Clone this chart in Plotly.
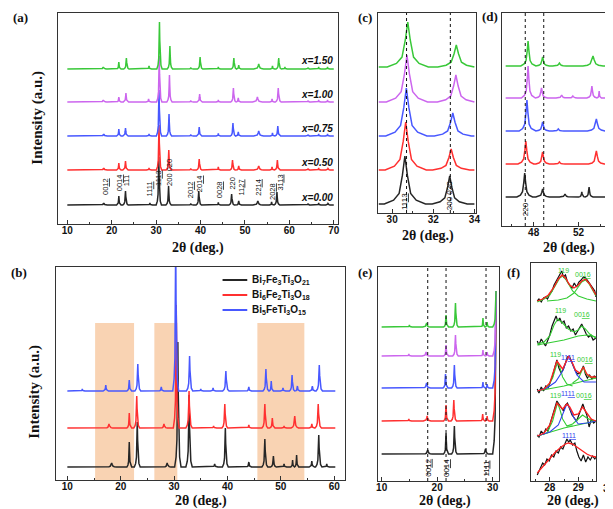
import plotly.graph_objects as go

W, H = 613, 509

# ---------------- colours of the five compositions ----------------
COLORS = ['#262626', '#ff3030', '#4858ff', '#cc66ee', '#39c839']

# ---------------- panel (a): full XRD patterns (pos, height, half-width) ----------------
A_LABELS = ["x=0.00", "x=0.50", "x=0.75", "x=1.00", "x=1.50"]
A_X000 = [(18.2, 2, .8), (21.6, 9, .5), (23.1, 14, .6), (28.6, 2, .6), (30.6, 48, .6), (32.8, 19, .6),
          (37.8, 1.5, .6), (39.6, 14, .6), (44.0, 2.5, .5), (47.0, 11, .6), (48.6, 4, .6), (52.9, 4, 1.1),
          (56.0, 3, .5), (57.2, 13, .65), (64.2, 1, .6), (66.6, 2, .5), (68.7, 1.5, .5)]
A_X050 = [(18.2, 2, .8), (21.6, 7, .5), (23.1, 9, .6), (28.4, 2, .6), (30.65, 45, .6), (32.85, 20, .6),
          (37.8, 1.5, .6), (39.7, 11, .6), (44.0, 3, .5), (47.2, 10, .6), (48.6, 4, .6), (53.1, 4, 1.1),
          (56.1, 3, .5), (57.3, 10, .65), (64.2, 1, .6), (66.6, 2, .5), (68.7, 1.5, .5)]
A_X075 = [(18.2, 2, .8), (21.6, 7, .5), (23.1, 8, .6), (28.4, 2, .6), (30.65, 46, .6), (32.9, 22, .6),
          (37.8, 1.5, .6), (39.7, 9, .6), (44.0, 2.5, .5), (47.3, 13, .6), (48.5, 4, .6), (53.1, 5, 1.1),
          (56.2, 3, .5), (57.4, 10, .65), (64.2, 1, .6), (66.6, 2, .5), (68.6, 2, .5)]
A_X100 = [(18.1, 2, .8), (21.6, 5, .5), (23.2, 9, .6), (28.3, 3, .6), (30.7, 46, .6), (33.0, 27, .6),
          (37.8, 1.5, .6), (39.8, 8, .6), (44.0, 2, .5), (47.4, 14, .6), (48.5, 4, .55), (52.8, 5, 1.1),
          (56.1, 3, .5), (57.5, 14, .65), (64.2, 1, .6), (66.6, 2, .5), (68.6, 2, .5)]
A_X150 = [(18.1, 2, .8), (21.6, 7, .5), (23.3, 11, .6), (28.4, 3, .6), (30.75, 47, .6), (33.1, 23, .6),
          (37.8, 1.5, .6), (39.9, 12, .6), (44.0, 2, .5), (47.5, 11, .6), (48.6, 4, .5), (53.1, 5, 1.1),
          (56.2, 3, .5), (57.6, 11, .6), (59.0, 2, .5), (64.2, 1, .6), (66.6, 2, .5), (68.6, 2, .5)]
A_OFFSET = [19, 54, 88, 122, 155]
A_HKL_X = [18.6, 21.8, 23.4, 28.6, 30.4, 33.0, 37.8, 39.8, 44.3, 47.1, 49.0, 53.0, 56.2, 57.8]
A_HKL_Y = [27, 31, 36, 26, 36, 36, 24, 30, 24, 32, 26, 26, 22, 31]
A_HKL_TXT = ["00<u>12</u>", "00<u>14</u>", "111", "11<u>11</u>", "11<u>13</u>", "200 020", "20<u>12</u>",
             "20<u>14</u>", "00<u>28</u>", "220", "11<u>27</u>", "22<u>14</u>", "20<u>28</u>", "31<u>13</u>"]

# ---------------- panel (b): three phases ----------------
B_NAMES = ["Bi<sub>7</sub>Fe<sub>3</sub>Ti<sub>3</sub>O<sub>21</sub>",
           "Bi<sub>6</sub>Fe<sub>2</sub>Ti<sub>3</sub>O<sub>18</sub>",
           "Bi<sub>5</sub>FeTi<sub>3</sub>O<sub>15</sub>"]
B_BLACK = [(18.3, 4, .9), (21.6, 25, .45), (23.1, 45, .55), (28.7, 4, .7), (30.7, 125, .6), (32.8, 72, .6),
           (37.6, 3, .6), (39.6, 39, .55), (44.0, 5, .5), (47.0, 28, .55), (48.6, 11, .55), (50.6, 3, .5),
           (52.2, 7, .35), (52.95, 12, .4), (55.8, 6, .5), (57.1, 32, .6), (58.6, 3, .5)]
B_RED = [(17.8, 4, .7), (21.6, 15, .45), (23.0, 32, .55), (28.1, 4, .6), (30.4, 123, .55), (32.8, 37, .6),
         (37.4, 2, .6), (39.5, 24, .55), (44.0, 3, .5), (47.0, 24, .55), (48.4, 10, .5), (50.6, 2, .5),
         (52.6, 12, .7), (55.8, 4, .5), (57.0, 24, .6)]
B_BLUE = [(12.8, 2, .5), (17.2, 6, .5), (21.6, 11, .45), (23.2, 27, .55), (27.6, 4, .5), (30.3, 150, .55),
          (32.9, 35, .6), (35.0, 2, .5), (37.3, 3, .5), (39.7, 20, .6), (44.0, 4, .5), (47.2, 22, .55),
          (48.2, 10, .4), (50.4, 3, .5), (52.1, 16, .5), (53.1, 5, .45), (55.9, 5, .5), (57.2, 26, .6)]
B_OFFSET = [13, 52, 89]
B_BANDS_LO = [15.2, 26.3, 45.6]
B_BANDS_HI = [22.5, 30.6, 54.4]
B_BAND_TOP = 157

# ---------------- panel (c): 29.4-34.0 deg ----------------
C_X000 = [(30.62, 48, 1.0), (32.80, 28, .85)]
C_X050 = [(30.66, 48, 1.0), (32.87, 21, .9)]
C_X075 = [(30.69, 48, 1.0), (32.95, 23, .9)]
C_X100 = [(30.72, 47, 1.0), (33.10, 27, .9)]
C_X150 = [(30.76, 45, 1.0), (33.12, 22, .9)]
C_OFFSET = [9, 43, 77, 111, 146]
C_LINES = [30.7, 32.83]
C_HKL_X = [30.6, 32.8]
C_HKL_TXT = ["11<u>13</u>", "200 020"]

# ---------------- panel (d): 45.5-54.7 deg ----------------
D_X000 = [(47.2, 24, .7), (48.8, 8, .6), (50.8, 3, .5), (52.3, 5, .3), (52.95, 10, .35)]
D_X050 = [(47.3, 23, .7), (48.8, 12, .6), (50.3, 2, .5), (53.6, 13, .7)]
D_X075 = [(47.4, 31, .7), (48.8, 9, .6), (50.2, 2, .5), (53.6, 12, .8)]
D_X100 = [(47.5, 32, .6), (48.7, 10, .55), (50.5, 3, .5), (51.5, 2, .4), (53.2, 12, .45), (53.85, 7, .2)]
D_X150 = [(47.5, 25, .65), (48.8, 9, .6), (50.3, 3, .6), (53.3, 10, .9)]
D_OFFSET = [29, 62, 95, 128, 160]
D_LINES = [47.25, 48.9]

# ---------------- panel (e): 10-30.6 deg ----------------
E_X000 = [(18.3, 4, .8), (21.6, 21, .45), (23.1, 28, .5), (28.7, 5, .6), (30.6, 163, .6)]
E_X050 = [(14.9, 2, .5), (18.2, 5, .7), (21.6, 16, .45), (23.0, 21, .5), (28.2, 7, .4), (29.0, 5, .35), (30.6, 130, .6)]
E_X075 = [(18.1, 5, .7), (21.5, 14, .45), (23.1, 23, .5), (28.25, 6, .35), (29.0, 4, .35), (30.6, 97, .6)]
E_X100 = [(14.9, 2, .5), (18.0, 4, .7), (21.6, 11, .45), (23.3, 21, .5), (28.25, 6, .35), (29.0, 4, .35), (30.6, 65, .6)]
E_X150 = [(15.0, 2, .5), (18.1, 4, .7), (21.6, 12, .45), (23.3, 24, .5), (28.25, 9, .35), (29.0, 5, .35), (30.6, 36, .6)]
E_OFFSET = [27, 60, 93, 125, 154]
E_LINES = [18.3, 21.6, 28.8]
E_HKL_TXT = ["00<u>12</u>", "00<u>14</u>", "11<u>11</u>"]

# ---------------- panel (f): peak fitting 27.6-29.6 deg ----------------
F1_DX = [27.56, 27.62, 27.7, 27.78, 27.85, 27.92, 28.0, 28.08, 28.15, 28.22, 28.3, 28.36, 28.42, 28.48, 28.55,
         28.62, 28.7, 28.78, 28.86, 28.94, 29.02, 29.1, 29.18, 29.26, 29.34, 29.42, 29.5, 29.58, 29.62]
F1_DY = [180, 182, 179, 183, 184, 182, 187, 190, 196, 200, 203, 208, 210, 204, 206,
         199, 196, 193, 198, 194, 199, 201, 204, 203, 200, 197, 193, 190, 184]
F1_RX = [27.56, 27.75, 27.95, 28.15, 28.3, 28.43, 28.55, 28.7, 28.85, 29.0, 29.12, 29.25, 29.4, 29.52, 29.62]
F1_RY = [180, 182, 186, 194, 202, 206, 203, 196, 193, 196, 200, 202, 197, 191, 186]
F1_G1X = [27.56, 27.8, 28.0, 28.2, 28.35, 28.45, 28.6, 28.8, 29.0, 29.3, 29.62]
F1_G1Y = [179, 182, 186, 195, 203, 205, 200, 190, 185, 182, 180]
F1_G2X = [27.9, 28.3, 28.6, 28.85, 29.0, 29.12, 29.25, 29.38, 29.5, 29.62]
F1_G2Y = [180, 181, 183, 188, 194, 199, 201, 197, 191, 185]

F2_DX = [27.56, 27.62, 27.7, 27.78, 27.85, 27.92, 28.0, 28.08, 28.15, 28.22, 28.28, 28.35, 28.42, 28.5,
         28.58, 28.66, 28.74, 28.82, 28.9, 28.98, 29.06, 29.12, 29.2, 29.28, 29.36, 29.44, 29.52, 29.62]
F2_DY = [140, 136, 142, 138, 135, 140, 146, 155, 161, 165, 160, 163, 158, 160,
         153, 155, 150, 152, 146, 150, 153, 157, 152, 147, 144, 146, 141, 143]
F2_G1X = [27.56, 27.8, 28.0, 28.15, 28.28, 28.45, 28.65, 28.85, 29.0, 29.12, 29.25, 29.4, 29.62]
F2_G1Y = [137, 139, 145, 156, 162, 158, 152, 149, 151, 155, 152, 147, 143]
F2_G2X = [27.56, 28.0, 28.5, 29.0, 29.3, 29.62]
F2_G2Y = [136, 138, 141, 145, 146, 144]

F3_DX = [27.56, 27.62, 27.7, 27.78, 27.86, 27.94, 28.02, 28.1, 28.18, 28.25, 28.32, 28.4, 28.48, 28.56, 28.62,
         28.68, 28.75, 28.82, 28.9, 28.98, 29.06, 29.12, 29.18, 29.25, 29.32, 29.4, 29.48, 29.56, 29.62]
F3_DY = [92, 88, 94, 90, 95, 93, 99, 105, 114, 121, 113, 108, 112, 119, 124,
         125, 120, 116, 110, 107, 108, 111, 115, 107, 103, 106, 102, 105, 104]
F3_RX = [27.56, 27.8, 28.0, 28.15, 28.25, 28.35, 28.45, 28.55, 28.66, 28.78, 28.9, 29.05, 29.18, 29.3, 29.45, 29.62]
F3_RY = [90, 92, 98, 110, 120, 116, 112, 118, 125, 119, 111, 108, 114, 107, 104, 104]
F3_G1X = [27.56, 27.9, 28.1, 28.2, 28.27, 28.35, 28.45, 28.6, 28.8]
F3_G1Y = [90, 93, 103, 114, 119, 114, 104, 97, 95]
F3_G2X = [28.8, 29.0, 29.12, 29.18, 29.25, 29.4, 29.62]
F3_G2Y = [98, 102, 110, 114, 108, 104, 103]
F3_G3X = [27.56, 28.5, 29.62]
F3_G3Y = [90, 95, 103]
F3_BX = [27.56, 27.9, 28.2, 28.45, 28.6, 28.68, 28.78, 28.95, 29.2, 29.62]
F3_BY = [90, 93, 99, 110, 121, 124, 118, 106, 99, 99]

F4_DX = [27.56, 27.62, 27.7, 27.78, 27.86, 27.94, 28.02, 28.1, 28.18, 28.25, 28.32, 28.4, 28.48, 28.55,
         28.62, 28.7, 28.78, 28.86, 28.94, 29.02, 29.1, 29.16, 29.22, 29.3, 29.38, 29.46, 29.54, 29.62]
F4_DY = [46, 44, 50, 47, 52, 50, 58, 66, 74, 80, 77, 73, 70, 76,
         78, 72, 66, 63, 60, 66, 73, 77, 72, 66, 54, 62, 58, 60]
F4_RX = [27.56, 27.8, 28.0, 28.15, 28.25, 28.35, 28.45, 28.6, 28.7, 28.85, 29.0, 29.15, 29.3, 29.45, 29.62]
F4_RY = [45, 48, 56, 70, 78, 75, 72, 77, 74, 66, 67, 74, 68, 62, 60]
F4_G1X = [27.56, 27.9, 28.1, 28.2, 28.27, 28.35, 28.45, 28.6, 28.8]
F4_G1Y = [45, 48, 60, 72, 78, 72, 62, 55, 55]
F4_G2X = [28.6, 28.8, 29.0, 29.15, 29.3, 29.45, 29.62]
F4_G2Y = [55, 57, 62, 66, 63, 61, 60]
F4_G3X = [27.56, 28.5, 29.62]
F4_G3Y = [45, 53, 60]
F4_BX = [27.56, 28.0, 28.3, 28.5, 28.6, 28.7, 28.85, 29.0, 29.3, 29.62]
F4_BY = [45, 49, 56, 70, 77, 73, 63, 57, 58, 60]

F5_DX = [27.56, 27.62, 27.68, 27.75, 27.82, 27.9, 27.98, 28.06, 28.14, 28.22, 28.3, 28.38, 28.46, 28.54, 28.6,
         28.66, 28.72, 28.8, 28.88, 28.95, 29.02, 29.1, 29.18, 29.26, 29.34, 29.42, 29.5, 29.58, 29.62]
F5_DY = [6, 10, 14, 18, 16, 22, 20, 26, 24, 30, 28, 34, 32, 38, 42,
         39, 41, 36, 38, 30, 24, 20, 26, 19, 24, 21, 25, 22, 24]
F5_RX = [27.56, 27.8, 28.0, 28.2, 28.4, 28.55, 28.66, 28.8, 28.95, 29.1, 29.3, 29.45, 29.62]
F5_RY = [8, 16, 23, 29, 34, 37, 38, 37, 34, 31, 27, 25, 24]

F_GLAB = [("119", 28.49, 211), ("00<u>16</u>", 29.18, 207), ("119", 28.37, 171), ("00<u>16</u>", 29.14, 167),
          ("119", 28.19, 127), ("00<u>16</u>", 29.22, 122), ("119", 28.19, 86), ("00<u>16</u>", 29.2, 86)]
F_BLAB = [("11<u>11</u>", 28.64, 124), ("11<u>11</u>", 28.64, 88), ("11<u>11</u>", 28.66, 46)]

# ---------------- drawing helpers ----------------
PROF_DX = [-1.0, -0.55, -0.28, -0.12, 0.0, 0.12, 0.28, 0.55, 1.0]
PROF_FY = [0.0, 0.08, 0.22, 0.6, 1.0, 0.6, 0.22, 0.08, 0.0]


def pattern(peaks, x0, x1, offset):
    xs, ys = [x0], [offset]
    for p, h, w in peaks:
        for dx, fy in zip(PROF_DX, PROF_FY):
            x = p + dx * w
            if x0 <= x <= x1:
                xs.append(x)
                ys.append(offset + fy * h)
    if xs[-1] < x1:
        xs.append(x1)
        ys.append(offset)
    return xs, ys


def px(x):
    return x / W


def py(y):
    return 1 - y / H


fig = go.Figure()
LW = 1.5


def add_line(xs, ys, color, ax, width=LW):
    fig.add_trace(go.Scatter(x=xs, y=ys, mode='lines', line=dict(color=color, width=width),
                             xaxis='x' + ax, yaxis='y' + ax, showlegend=False, hoverinfo='skip'))


# (a)
for peaks, off, col in zip([A_X000, A_X050, A_X075, A_X100, A_X150], A_OFFSET, COLORS):
    xs, ys = pattern(peaks, 10, 70, off)
    add_line(xs, ys, col, '')
# (b)
for peaks, off, col in zip([B_BLACK, B_RED, B_BLUE], B_OFFSET, COLORS[:3]):
    xs, ys = pattern(peaks, 10, 60.2, off)
    add_line(xs, ys, col, '2')
# (c)
for peaks, off, col in zip([C_X000, C_X050, C_X075, C_X100, C_X150], C_OFFSET, COLORS):
    xs, ys = pattern(peaks, 29.35, 34.0, off)
    add_line(xs, ys, col, '3')
# (d)
for peaks, off, col in zip([D_X000, D_X050, D_X075, D_X100, D_X150], D_OFFSET, COLORS):
    xs, ys = pattern(peaks, 45.5, 54.7, off)
    add_line(xs, ys, col, '4')
# (e)
for peaks, off, col in zip([E_X000, E_X050, E_X075, E_X100, E_X150], E_OFFSET, COLORS):
    xs, ys = pattern(peaks, 10, 30.6, off)
    add_line(xs, ys, col, '5')
# (f)
GREEN_F = '#33cc33'
RED_F = '#ff2020'
BLUE_F = '#3344ee'
for dx, dy in [(F1_DX, F1_DY), (F2_DX, F2_DY), (F3_DX, F3_DY), (F4_DX, F4_DY), (F5_DX, F5_DY)]:
    add_line(dx, dy, '#111111', '6', width=1.2)
for gx, gy in [(F1_G1X, F1_G1Y), (F1_G2X, F1_G2Y), (F2_G1X, F2_G1Y), (F2_G2X, F2_G2Y),
               (F3_G1X, F3_G1Y), (F3_G2X, F3_G2Y), (F3_G3X, F3_G3Y),
               (F4_G1X, F4_G1Y), (F4_G2X, F4_G2Y), (F4_G3X, F4_G3Y)]:
    add_line(gx, gy, GREEN_F, '6', width=1.1)
for bx, by in [(F3_BX, F3_BY), (F4_BX, F4_BY)]:
    add_line(bx, by, BLUE_F, '6', width=1.1)
for rx, ry in [(F1_RX, F1_RY), (F3_RX, F3_RY), (F4_RX, F4_RY), (F5_RX, F5_RY)]:
    add_line(rx, ry, RED_F, '6', width=1.3)

# ---------------- axes ----------------
AX_COL = '#333333'
TICKFONT = dict(family='Arial', size=10, color='#111111', weight='bold')


def xax(domain, anchor, rng, dtick, minor, tick0=None):
    d = dict(domain=domain, anchor=anchor, range=rng, showline=True, mirror=True, linecolor=AX_COL,
             linewidth=1, ticks='inside', ticklen=4, tickwidth=1, tickcolor=AX_COL, dtick=dtick,
             tickfont=TICKFONT, showgrid=False, zeroline=False, ticklabelstandoff=-3,
             minor=dict(ticks='inside', ticklen=2, dtick=minor, tickcolor=AX_COL, showgrid=False))
    if tick0 is not None:
        d['tick0'] = tick0
    return d


def yax(domain, anchor, rng):
    return dict(domain=domain, anchor=anchor, range=rng, showline=True, mirror=True, linecolor=AX_COL,
                linewidth=1, ticks='', showticklabels=False, showgrid=False, zeroline=False)


fig.update_layout(
    width=W, height=H, margin=dict(l=0, r=0, t=0, b=0),
    paper_bgcolor='white', plot_bgcolor='white', showlegend=False,
    xaxis=xax([px(49), px(332)], 'y', [8, 71], 10, 5),
    yaxis=yax([py(216), py(5)], 'x', [0, 211]),
    xaxis2=xax([px(47), px(339)], 'y2', [7.96, 62.04], 10, 5),
    yaxis2=yax([py(472), py(259)], 'x2', [0, 213]),
    xaxis3=xax([px(372), px(471)], 'y3', [29.3, 34.06], 2, 1),
    yaxis3=yax([py(205), py(5)], 'x3', [0, 200]),
    xaxis4=xax([px(498), px(609)], 'y4', [45.2, 55.0], 4, 2, tick0=48),
    yaxis4=yax([py(218), py(5)], 'x4', [0, 213]),
    xaxis5=xax([px(372), px(495)], 'y5', [9.3, 31.2], 10, 5),
    yaxis5=yax([py(473), py(259)], 'x5', [0, 214]),
    xaxis6=xax([px(527), px(593)], 'y6', [27.34, 29.63], 1, 0.5),
    yaxis6=yax([py(473), py(255)], 'x6', [0, 218]),
)

# ---------------- shapes ----------------
shapes = []
for lo, hi in zip(B_BANDS_LO, B_BANDS_HI):
    shapes.append(dict(type='rect', xref='x2', yref='y2', x0=lo, x1=hi, y0=0, y1=B_BAND_TOP,
                       fillcolor='#f9d3b3', line=dict(width=0), layer='below'))
for ax, xs in [('3', C_LINES), ('4', D_LINES), ('5', E_LINES)]:
    for xv in xs:
        shapes.append(dict(type='line', xref='x' + ax, yref='y%s domain' % ax, x0=xv, x1=xv, y0=0, y1=1,
                           line=dict(color='#111111', width=1, dash='dot'), layer='above'))

# legend of panel (b): key lines + names
ann = []
LEG_ROWS = [272, 287, 302]
for nm, col, ry in zip(B_NAMES, COLORS[:3], LEG_ROWS):
    shapes.append(dict(type='line', xref='paper', yref='paper', x0=px(215), x1=px(240), y0=py(ry), y1=py(ry),
                       line=dict(color=col, width=2)))
    ann.append(dict(text=nm, xref='paper', yref='paper', x=px(243), y=py(ry), showarrow=False,
                    xanchor='left', yanchor='middle',
                    font=dict(family='Arial', size=10, color='#111111', weight='bold')))
fig.update_layout(shapes=shapes)

# ---------------- annotations ----------------
SERIF = 'Liberation Serif'


def paper_text(txt, x, y, size, angle=0, family=SERIF, xanchor='center'):
    ann.append(dict(text=txt, xref='paper', yref='paper', x=px(x), y=py(y), showarrow=False,
                    textangle=angle, xanchor=xanchor, yanchor='middle', borderpad=0,
                    font=dict(family=family, size=size, color='#111111', weight='bold')))


for lab, x, y in [('(a)', 11, 10), ('(b)', 9, 264), ('(c)', 359, 10), ('(d)', 486, 8), ('(e)', 359, 264),
                  ('(f)', 509, 264)]:
    paper_text(lab, x, y, 13)
paper_text('Intensity (a.u.)', 27, 110, 15, angle=-90)
paper_text('Intensity (a.u.)', 24, 384, 15, angle=-90)
for x, y in [(190, 240), (193, 493), (423, 228), (565, 240), (440, 493), (570, 493)]:
    paper_text('2θ (deg.)', x, y, 14)
paper_text('30', 606, 480, 10, family='Arial')

# series labels in (a)
for lab, off in zip(A_LABELS, A_OFFSET):
    ann.append(dict(text='<i>' + lab + '</i>', xref='x', yref='y', x=70.3, y=off + 8, showarrow=False,
                    xanchor='right', yanchor='middle',
                    font=dict(family='Arial', size=10, color='#111111', weight='bold')))
# hkl labels
HKL_FONT = dict(family='Arial', size=7.5, color='#111111')
for x, y, t in zip(A_HKL_X, A_HKL_Y, A_HKL_TXT):
    ann.append(dict(text=t, xref='x', yref='y', x=x, y=y, showarrow=False, textangle=-90,
                    xanchor='center', yanchor='bottom', font=HKL_FONT))
for x, t in zip(C_HKL_X, C_HKL_TXT):
    ann.append(dict(text=t, xref='x3', yref='y3', x=x, y=1, showarrow=False, textangle=-90,
                    xanchor='center', yanchor='bottom', font=dict(family='Arial', size=8, color='#111111')))
ann.append(dict(text='220', xref='x4', yref='y4', x=47.25, y=8, showarrow=False, textangle=-90,
                xanchor='center', yanchor='bottom', font=dict(family='Arial', size=8, color='#111111')))
for x, t in zip(E_LINES, E_HKL_TXT):
    ann.append(dict(text=t, xref='x5', yref='y5', x=x, y=2, showarrow=False, textangle=-90,
                    xanchor='center', yanchor='bottom', font=dict(family='Arial', size=8, color='#111111')))
for t, x, y in F_GLAB:
    ann.append(dict(text=t, xref='x6', yref='y6', x=x, y=y, showarrow=False, xanchor='center',
                    yanchor='middle', font=dict(family='Arial', size=7, color=GREEN_F)))
for t, x, y in F_BLAB:
    ann.append(dict(text=t, xref='x6', yref='y6', x=x, y=y, showarrow=False, xanchor='center',
                    yanchor='middle', font=dict(family='Arial', size=7, color=BLUE_F)))
fig.update_layout(annotations=ann)

fig.write_html('out.html')
